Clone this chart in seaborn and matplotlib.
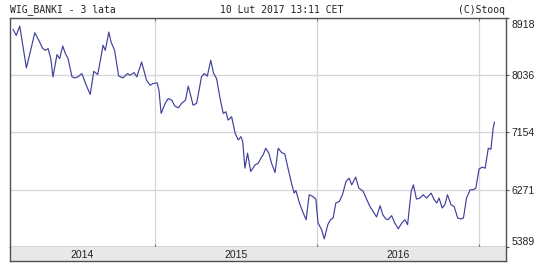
import matplotlib
matplotlib.use("Agg")
import matplotlib.pyplot as plt
import matplotlib.transforms as mtransforms
import seaborn as sns
import pandas as pd

# ---- data ----
title_left = "WIG_BANKI - 3 lata"
title_mid = "10 Lut 2017 13:11 CET"
title_right = "(C)Stooq"

dates = [
    "2014-02-15", "2014-02-22", "2014-03-02", "2014-03-17", "2014-04-05", "2014-04-14",
    "2014-04-23", "2014-04-29", "2014-05-05", "2014-05-11", "2014-05-16", "2014-05-25",
    "2014-05-31", "2014-06-07", "2014-06-13", "2014-06-19", "2014-06-28", "2014-07-04",
    "2014-07-11", "2014-07-20", "2014-07-30", "2014-08-08", "2014-08-16", "2014-08-25",
    "2014-09-06", "2014-09-11", "2014-09-19", "2014-09-24", "2014-10-02", "2014-10-11",
    "2014-10-21", "2014-10-31", "2014-11-06", "2014-11-15", "2014-11-21", "2014-12-02",
    "2014-12-13", "2014-12-21", "2014-12-28", "2015-01-06", "2015-01-10", "2015-01-15",
    "2015-01-24", "2015-01-31", "2015-02-08", "2015-02-15", "2015-02-23", "2015-03-02",
    "2015-03-11", "2015-03-17", "2015-03-23", "2015-03-28", "2015-04-05", "2015-04-16",
    "2015-04-22", "2015-04-29", "2015-05-07", "2015-05-13", "2015-05-20", "2015-05-28",
    "2015-06-04", "2015-06-10", "2015-06-15", "2015-06-23", "2015-07-01", "2015-07-08",
    "2015-07-14", "2015-07-18", "2015-07-23", "2015-07-29", "2015-08-05", "2015-08-15",
    "2015-08-22", "2015-08-30", "2015-09-02", "2015-09-08", "2015-09-15", "2015-09-21",
    "2015-09-29", "2015-10-06", "2015-10-14", "2015-10-21", "2015-10-29", "2015-11-05",
    "2015-11-11", "2015-11-15", "2015-11-23", "2015-11-30", "2015-12-08", "2015-12-15",
    "2015-12-23", "2015-12-30", "2016-01-04", "2016-01-12", "2016-01-18", "2016-01-26",
    "2016-02-01", "2016-02-07", "2016-02-13", "2016-02-21", "2016-02-28", "2016-03-07",
    "2016-03-14", "2016-03-20", "2016-03-29", "2016-04-05", "2016-04-15", "2016-04-23",
    "2016-04-30", "2016-05-07", "2016-05-15", "2016-05-23", "2016-05-29", "2016-06-05",
    "2016-06-10", "2016-06-18", "2016-06-25", "2016-07-03", "2016-07-11", "2016-07-18",
    "2016-07-24", "2016-08-01", "2016-08-06", "2016-08-13", "2016-08-21", "2016-08-28",
    "2016-09-05", "2016-09-15", "2016-09-22", "2016-09-28", "2016-10-03", "2016-10-10",
    "2016-10-16", "2016-10-22", "2016-10-30", "2016-11-06", "2016-11-14", "2016-11-21",
    "2016-11-27", "2016-12-04", "2016-12-12", "2016-12-19", "2016-12-25", "2017-01-01",
    "2017-01-08", "2017-01-15", "2017-01-22", "2017-01-28", "2017-02-02", "2017-02-05",
]

values = [
    8742, 8650, 8793, 8148, 8691, 8573,
    8446, 8420, 8446, 8292, 8010, 8354,
    8292, 8486, 8369, 8292, 8010, 7995,
    8010, 8062, 7882, 7740, 8097, 8047,
    8497, 8420, 8701, 8547, 8420, 8025,
    7995, 8062, 8036, 8077, 8010, 8240,
    7959, 7882, 7909, 7918, 7806, 7448,
    7602, 7678, 7652, 7560, 7534, 7602,
    7652, 7867, 7714, 7575, 7602, 8010,
    8062, 8021, 8266, 8071, 7985, 7678,
    7448, 7473, 7345, 7396, 7141, 7038,
    7089, 7012, 6604, 6834, 6552, 6654,
    6681, 6782, 6808, 6911, 6834, 6681,
    6536, 6911, 6843, 6823, 6578, 6374,
    6220, 6260, 6067, 5938, 5810, 6194,
    6168, 6128, 5760, 5657, 5514, 5733,
    5810, 5836, 6067, 6091, 6194, 6398,
    6450, 6347, 6466, 6297, 6245, 6117,
    6014, 5938, 5852, 6025, 5887, 5821,
    5810, 5872, 5760, 5670, 5760, 5810,
    5733, 6245, 6347, 6128, 6143, 6194,
    6143, 6220, 6117, 6067, 6143, 5990,
    6040, 6194, 6040, 6014, 5836, 5821,
    5836, 6143, 6271, 6271, 6297, 6588,
    6619, 6604, 6911, 6895, 7218, 7315,
]

y_ticks = [5389, 6271, 7154, 8036, 8918]
y_tick_labels = ["5389", "6271", "7154", "8036", "8918"]
year_bounds = ["2015-01-01", "2016-01-01", "2017-01-01"]
x_range = ["2014-02-08", "2017-03-03"]
year_labels = ["2014", "2015", "2016"]

df = pd.DataFrame({"date": pd.to_datetime(dates), "value": values})

# ---- style ----
sns.set_style("white")
plt.rcParams["font.family"] = ["Liberation Sans", "DejaVu Sans"]

W, H = 540, 263
fig = plt.figure(figsize=(W / 100, H / 100), dpi=100)
fig.patch.set_facecolor("white")

frame_col = "#505050"
grid_col = "#d6d6d6"
line_col = "#40409c"
text_col = "#222222"

ax = fig.add_axes([10 / W, (H - 247) / H, 496 / W, (247 - 18) / H])
sns.lineplot(data=df, x="date", y="value", ax=ax, color=line_col, linewidth=0.85)

xmin, xmax = pd.to_datetime(x_range)
ax.set_xlim(xmin, xmax)
ax.set_ylim(y_ticks[0], y_ticks[-1])
ax.set_xlabel("")
ax.set_ylabel("")

ax.set_xticks(pd.to_datetime(year_bounds))
ax.tick_params(axis="x", which="both", bottom=True, top=True, direction="in",
               length=2, color="#777777", labelbottom=False, labeltop=False)
ax.yaxis.tick_right()
ax.set_yticks(y_ticks)
ax.set_yticklabels(y_tick_labels)
ax.tick_params(axis="y", direction="out", length=2.5, width=0.8, pad=1.5,
               color=frame_col, labelsize=7.5, labelcolor=text_col)
lbls = ax.get_yticklabels()
lbls[0].set_va("bottom")
lbls[-1].set_va("top")
lbls[-1].set_transform(lbls[-1].get_transform() +
                       mtransforms.ScaledTranslation(0, -2 / 100, fig.dpi_scale_trans))

ax.grid(True, color=grid_col, linewidth=0.9)
for s in ax.spines.values():
    s.set_visible(True)
    s.set_color(frame_col)
    s.set_linewidth(1.0)

# ---- year band below the chart ----
bx = fig.add_axes([10 / W, (H - 261) / H, 496 / W, 14 / H])
bx.set_facecolor("#e8e8e8")
bx.set_xlim(xmin, xmax)
bx.set_ylim(0, 1)
bx.set_yticks([])
bx.set_xticks(pd.to_datetime(year_bounds))
bx.tick_params(axis="x", direction="out", length=2, color=frame_col,
               labelbottom=False)
for s in bx.spines.values():
    s.set_color(frame_col)
    s.set_linewidth(1.0)
bx.spines["top"].set_visible(False)

starts = [xmin] + list(pd.to_datetime(year_bounds[:-1]))
ends = list(pd.to_datetime(year_bounds))
for lab, a, b in zip(year_labels, starts, ends):
    mid = a + (b - a) / 2
    bx.text(mid, 0.45, lab, ha="center", va="center", fontsize=7.5, color=text_col)

# ---- header texts ----
mono = ["DejaVu Sans Mono"]
fig.text(10 / W, 1 - 10 / H, title_left, ha="left", va="center",
         fontsize=7, family=mono, color=text_col)
fig.text(282 / W, 1 - 10 / H, title_mid, ha="center", va="center",
         fontsize=7, family=mono, color=text_col)
fig.text(505 / W, 1 - 10 / H, title_right, ha="right", va="center",
         fontsize=7, family=mono, color=text_col)

fig.savefig("out.png", dpi=100, facecolor="white")
